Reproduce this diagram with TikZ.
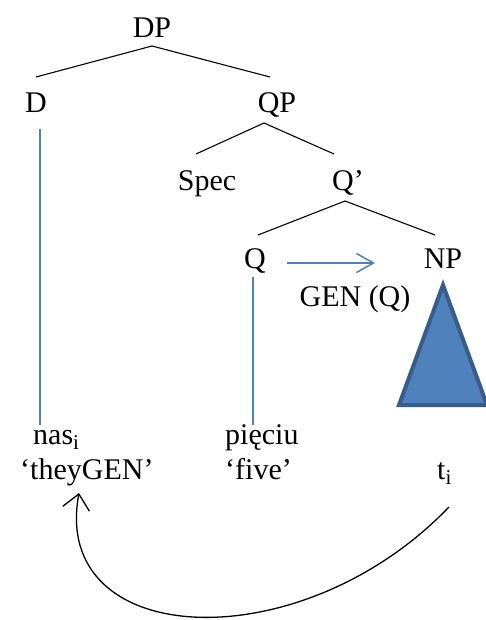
\documentclass[tikz,border=0pt]{standalone}
\usepackage{fontspec}
\setmainfont{Liberation Serif}
\usetikzlibrary{arrows.meta}
\definecolor{lineblue}{HTML}{4F81BD}
\definecolor{triedge}{HTML}{385D8A}
\begin{document}
\begin{tikzpicture}[x=1pt,y=-1pt,
  lab/.style={inner sep=0pt,anchor=base,font=\fontsize{30}{36}\selectfont},
  labw/.style={lab,anchor=base west},
  branch/.style={line width=1.1pt,black},
  assoc/.style={line width=1.5pt,lineblue}]
\useasboundingbox (0,0) rectangle (485,620);
% tree labels
\node[lab] (DP) at (152,38) {DP};
\node[lab] (D) at (36,113) {D};
\node[lab] (QP) at (277,113) {QP};
\node[lab] (Spec) at (207,191) {Spec};
\node[lab] (Qbar) at (348,191) {Q’};
\node[lab] (Q) at (255,268) {Q};
\node[lab] (NP) at (443,268) {NP};
\node[lab] (GEN) at (355,306) {GEN (Q)};
\node[labw] (nas) at (33,444) {nas\textsubscript{i}};
\node[labw] (they) at (20,479) {‘theyGEN’};
\node[labw] (piec) at (225,444) {pięciu};
\node[labw] (five) at (225,479) {‘five’};
\node[labw] (t) at (437,479) {t\textsubscript{i}};
% branches
\draw[branch] ([yshift=-8pt]DP.base) -- ([yshift=36pt]D.base);
\draw[branch] ([yshift=-8pt]DP.base) -- ([xshift=-7pt,yshift=36pt]QP.base);
\draw[branch] ([xshift=-13pt,yshift=-10pt]QP.base) -- ([xshift=-11pt,yshift=37pt]Spec.base);
\draw[branch] ([xshift=-13pt,yshift=-10pt]QP.base) -- ([xshift=-14pt,yshift=37pt]Qbar.base);
\draw[branch] ([xshift=-3pt,yshift=-10pt]Qbar.base) -- ([xshift=3pt,yshift=33pt]Q.base);
\draw[branch] ([xshift=-3pt,yshift=-10pt]Qbar.base) -- ([xshift=-8pt,yshift=33pt]NP.base);
% blue association lines
\draw[assoc] ([xshift=4pt,yshift=-16pt]D.base) -- ([xshift=7pt,yshift=19pt]nas.base west);
\draw[assoc] ([xshift=-2pt,yshift=-9pt]Q.base) -- ([xshift=28pt,yshift=19pt]piec.base west);
\draw[assoc,-{Straight Barb[length=17pt,width=19pt]}] ([xshift=32pt,yshift=5pt]Q.base) -- ([xshift=-68pt,yshift=5pt]NP.base);
% NP triangle
\draw[line width=4pt,draw=triedge,fill=lineblue,line join=miter] (443,285) -- (399,405) -- (487,405) -- cycle;
% movement arrow
\draw[line width=1.3pt,-{Straight Barb[length=15pt,width=27pt]}] ([xshift=12pt,yshift=-28pt]t.base west) .. controls (300,662) and (50,650) .. ([xshift=59pt,yshift=-14pt]they.base west);
\end{tikzpicture}
\end{document}
